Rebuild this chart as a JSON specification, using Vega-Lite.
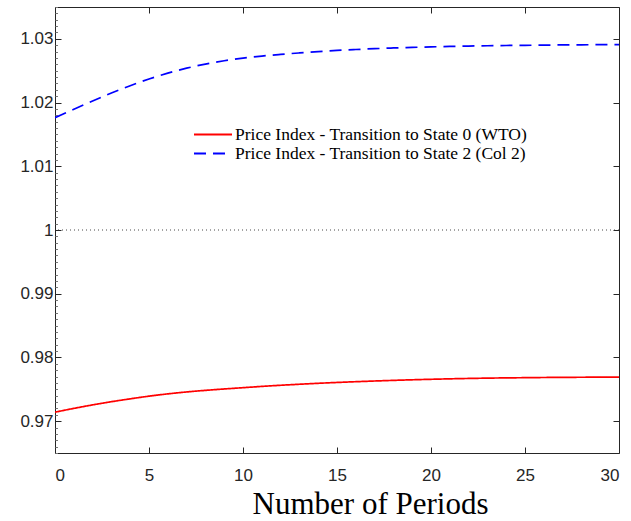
{
  "$schema": "https://vega.github.io/schema/vega-lite/v6.json",
  "width": 564,
  "height": 446,
  "autosize": {"type": "none"},
  "padding": {"left": 55, "top": 7, "right": 12, "bottom": 68},
  "background": "white",
  "config": {
    "view": {"stroke": null},
    "axis": {"grid": false, "domainColor": "#262626", "tickColor": "#262626", "labelColor": "#262626", "labelFont": "Liberation Sans", "labelFontSize": 17, "domainWidth": 1, "tickWidth": 1},
    "legend": {"orient": "none", "legendX": 147.5, "legendY": 117, "padding": 0, "labelFont": "Liberation Serif", "labelFontSize": 17.5, "labelColor": "black", "labelLimit": 500, "symbolType": "M-2,0H2", "symbolSize": 361, "symbolStrokeWidth": 1.8, "labelOffset": 11.5, "rowPadding": -1, "title": null}
  },
  "data": {"values": [
    {"t":0,"s":"Price Index - Transition to State 0 (WTO)","v":0.97141},
    {"t":1,"s":"Price Index - Transition to State 0 (WTO)","v":0.97200},
    {"t":2,"s":"Price Index - Transition to State 0 (WTO)","v":0.97255},
    {"t":3,"s":"Price Index - Transition to State 0 (WTO)","v":0.97305},
    {"t":4,"s":"Price Index - Transition to State 0 (WTO)","v":0.97350},
    {"t":5,"s":"Price Index - Transition to State 0 (WTO)","v":0.97392},
    {"t":6,"s":"Price Index - Transition to State 0 (WTO)","v":0.97428},
    {"t":7,"s":"Price Index - Transition to State 0 (WTO)","v":0.97458},
    {"t":8,"s":"Price Index - Transition to State 0 (WTO)","v":0.97483},
    {"t":9,"s":"Price Index - Transition to State 0 (WTO)","v":0.97505},
    {"t":10,"s":"Price Index - Transition to State 0 (WTO)","v":0.97525},
    {"t":11,"s":"Price Index - Transition to State 0 (WTO)","v":0.97545},
    {"t":12,"s":"Price Index - Transition to State 0 (WTO)","v":0.97563},
    {"t":13,"s":"Price Index - Transition to State 0 (WTO)","v":0.97579},
    {"t":14,"s":"Price Index - Transition to State 0 (WTO)","v":0.97594},
    {"t":15,"s":"Price Index - Transition to State 0 (WTO)","v":0.97607},
    {"t":16,"s":"Price Index - Transition to State 0 (WTO)","v":0.97619},
    {"t":17,"s":"Price Index - Transition to State 0 (WTO)","v":0.97630},
    {"t":18,"s":"Price Index - Transition to State 0 (WTO)","v":0.97640},
    {"t":19,"s":"Price Index - Transition to State 0 (WTO)","v":0.97649},
    {"t":20,"s":"Price Index - Transition to State 0 (WTO)","v":0.97657},
    {"t":21,"s":"Price Index - Transition to State 0 (WTO)","v":0.97664},
    {"t":22,"s":"Price Index - Transition to State 0 (WTO)","v":0.97670},
    {"t":23,"s":"Price Index - Transition to State 0 (WTO)","v":0.97675},
    {"t":24,"s":"Price Index - Transition to State 0 (WTO)","v":0.97679},
    {"t":25,"s":"Price Index - Transition to State 0 (WTO)","v":0.97682},
    {"t":26,"s":"Price Index - Transition to State 0 (WTO)","v":0.97685},
    {"t":27,"s":"Price Index - Transition to State 0 (WTO)","v":0.97687},
    {"t":28,"s":"Price Index - Transition to State 0 (WTO)","v":0.97689},
    {"t":29,"s":"Price Index - Transition to State 0 (WTO)","v":0.97690},
    {"t":30,"s":"Price Index - Transition to State 0 (WTO)","v":0.97691},
    {"t":0,"s":"Price Index - Transition to State 2 (Col 2)","v":1.01763},
    {"t":1,"s":"Price Index - Transition to State 2 (Col 2)","v":1.01895},
    {"t":2,"s":"Price Index - Transition to State 2 (Col 2)","v":1.02025},
    {"t":3,"s":"Price Index - Transition to State 2 (Col 2)","v":1.02150},
    {"t":4,"s":"Price Index - Transition to State 2 (Col 2)","v":1.02265},
    {"t":5,"s":"Price Index - Transition to State 2 (Col 2)","v":1.02370},
    {"t":6,"s":"Price Index - Transition to State 2 (Col 2)","v":1.02462},
    {"t":7,"s":"Price Index - Transition to State 2 (Col 2)","v":1.02540},
    {"t":8,"s":"Price Index - Transition to State 2 (Col 2)","v":1.02604},
    {"t":9,"s":"Price Index - Transition to State 2 (Col 2)","v":1.02656},
    {"t":10,"s":"Price Index - Transition to State 2 (Col 2)","v":1.02698},
    {"t":11,"s":"Price Index - Transition to State 2 (Col 2)","v":1.02730},
    {"t":12,"s":"Price Index - Transition to State 2 (Col 2)","v":1.02756},
    {"t":13,"s":"Price Index - Transition to State 2 (Col 2)","v":1.02779},
    {"t":14,"s":"Price Index - Transition to State 2 (Col 2)","v":1.02800},
    {"t":15,"s":"Price Index - Transition to State 2 (Col 2)","v":1.02818},
    {"t":16,"s":"Price Index - Transition to State 2 (Col 2)","v":1.02833},
    {"t":17,"s":"Price Index - Transition to State 2 (Col 2)","v":1.02846},
    {"t":18,"s":"Price Index - Transition to State 2 (Col 2)","v":1.02857},
    {"t":19,"s":"Price Index - Transition to State 2 (Col 2)","v":1.02866},
    {"t":20,"s":"Price Index - Transition to State 2 (Col 2)","v":1.02874},
    {"t":21,"s":"Price Index - Transition to State 2 (Col 2)","v":1.02881},
    {"t":22,"s":"Price Index - Transition to State 2 (Col 2)","v":1.02887},
    {"t":23,"s":"Price Index - Transition to State 2 (Col 2)","v":1.02892},
    {"t":24,"s":"Price Index - Transition to State 2 (Col 2)","v":1.02896},
    {"t":25,"s":"Price Index - Transition to State 2 (Col 2)","v":1.02899},
    {"t":26,"s":"Price Index - Transition to State 2 (Col 2)","v":1.02902},
    {"t":27,"s":"Price Index - Transition to State 2 (Col 2)","v":1.02905},
    {"t":28,"s":"Price Index - Transition to State 2 (Col 2)","v":1.02907},
    {"t":29,"s":"Price Index - Transition to State 2 (Col 2)","v":1.02909},
    {"t":30,"s":"Price Index - Transition to State 2 (Col 2)","v":1.02910}
  ]},
  "resolve": {"axis": {"x": "independent", "y": "independent"}},
  "layer": [
    {
      "data": {"values": [{"ref": 1}]},
      "mark": {"type": "rule", "color": "#333333", "strokeDash": [1, 3], "strokeWidth": 0.9},
      "encoding": {
        "y": {"field": "ref", "type": "quantitative", "scale": {"domain": [0.965, 1.035], "nice": false, "zero": false}, "axis": null}
      }
    },
    {
      "mark": {"type": "line", "strokeWidth": 1.7, "clip": true, "interpolate": "monotone"},
      "encoding": {
        "x": {"field": "t", "type": "quantitative", "scale": {"domain": [0, 30], "nice": false}, "title": "Number of Periods",
          "axis": {"orient": "bottom", "values": [0, 5, 10, 15, 20, 25, 30], "tickSize": -6, "labelPadding": 20, "titleFont": "Liberation Serif", "titleFontSize": 31, "titleFontWeight": "normal", "titleColor": "black", "titleX": 315, "titleY": 60, "titleBaseline": "alphabetic", "titleAlign": "center", "titleAnchor": null}},
        "y": {"field": "v", "type": "quantitative", "scale": {"domain": [0.965, 1.035], "nice": false, "zero": false}, "title": null,
          "axis": {"orient": "left", "values": [0.97, 0.98, 0.99, 1, 1.01, 1.02, 1.03], "format": ".2~f", "tickSize": -6, "labelPadding": 8}},
        "color": {"field": "s", "type": "nominal", "scale": {"domain": ["Price Index - Transition to State 0 (WTO)", "Price Index - Transition to State 2 (Col 2)"], "range": ["#ff0000", "#0000ff"]}},
        "strokeDash": {"field": "s", "type": "nominal", "scale": {"domain": ["Price Index - Transition to State 0 (WTO)", "Price Index - Transition to State 2 (Col 2)"], "range": [[1, 0], [12, 7]]}}
      }
    },
    {
      "mark": {"type": "point", "opacity": 0},
      "encoding": {
        "x": {"field": "t", "type": "quantitative", "scale": {"domain": [0, 30], "nice": false}, "title": null,
          "axis": {"orient": "top", "values": [0, 5, 10, 15, 20, 25, 30], "tickSize": -6, "labels": false}},
        "y": {"field": "v", "type": "quantitative", "scale": {"domain": [0.965, 1.035], "nice": false, "zero": false}, "title": null,
          "axis": {"orient": "right", "values": [0.97, 0.98, 0.99, 1, 1.01, 1.02, 1.03], "tickSize": -6, "labels": false}}
      }
    },
    {
      "mark": {"type": "point", "opacity": 0},
      "encoding": {
        "y": {"field": "v", "type": "quantitative", "scale": {"domain": [0.965, 1.035], "nice": false, "zero": false}, "title": null,
          "axis": {"orient": "left", "domain": false, "labels": false, "tickSize": -2.5, "tickColor": "#777777",
            "values": [0.965,0.966,0.967,0.968,0.969,0.971,0.972,0.973,0.974,0.975,0.976,0.977,0.978,0.979,0.981,0.982,0.983,0.984,0.985,0.986,0.987,0.988,0.989,0.991,0.992,0.993,0.994,0.995,0.996,0.997,0.998,0.999,1.001,1.002,1.003,1.004,1.005,1.006,1.007,1.008,1.009,1.011,1.012,1.013,1.014,1.015,1.016,1.017,1.018,1.019,1.021,1.022,1.023,1.024,1.025,1.026,1.027,1.028,1.029,1.031,1.032,1.033,1.034,1.035]}}
      }
    }
  ]
}
